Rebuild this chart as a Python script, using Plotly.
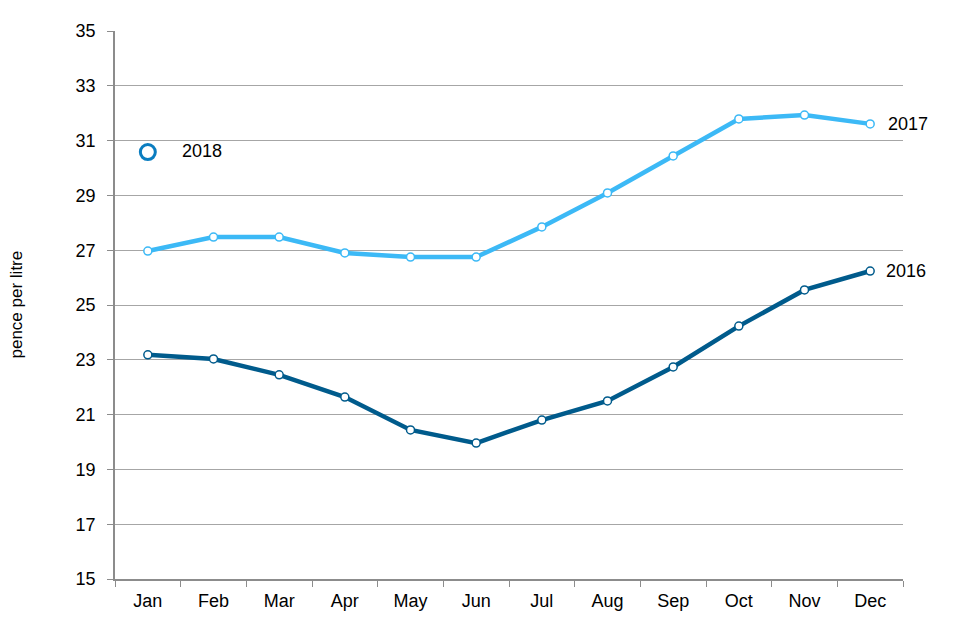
import plotly.graph_objects as go

months = ["Jan", "Feb", "Mar", "Apr", "May", "Jun", "Jul", "Aug", "Sep", "Oct", "Nov", "Dec"]
values_2016 = [23.18, 23.03, 22.45, 21.64, 20.44, 19.96, 20.80, 21.50, 22.74, 24.23, 25.55, 26.24]
values_2017 = [26.97, 27.48, 27.48, 26.90, 26.75, 26.75, 27.85, 29.09, 30.44, 31.79, 31.93, 31.61]
months_2018 = ["Jan"]
values_2018 = [30.58]
y_ticks = [15, 17, 19, 21, 23, 25, 27, 29, 31, 33, 35]

c2016 = "#005b8c"
c2017 = "#3cb9f6"
c2018 = "#0a7dc0"

fig = go.Figure()
fig.add_trace(go.Scatter(x=months, y=values_2016, mode="lines+markers", name="2016",
                         line=dict(color=c2016, width=4.5),
                         marker=dict(size=8, color="white", line=dict(color=c2016, width=1.5))))
fig.add_trace(go.Scatter(x=months, y=values_2017, mode="lines+markers", name="2017",
                         line=dict(color=c2017, width=4.5),
                         marker=dict(size=8, color="white", line=dict(color=c2017, width=1.5))))
fig.add_trace(go.Scatter(x=months_2018, y=values_2018, mode="markers", name="2018",
                         marker=dict(size=15, color="white", line=dict(color=c2018, width=3))))

font = dict(family="Liberation Sans, Arial, sans-serif", size=18, color="black")
fig.add_annotation(x=months[-1], y=values_2017[-1], text="2017", showarrow=False,
                   xanchor="left", xshift=16, font=font)
fig.add_annotation(x=months[-1], y=values_2016[-1], text="2016", showarrow=False,
                   xanchor="left", xshift=14, font=font)
fig.add_annotation(x=months_2018[0], y=values_2018[0], text="2018", showarrow=False,
                   xanchor="left", xshift=32, yshift=1, font=font)
fig.add_annotation(xref="paper", yref="paper", x=0, y=0.5, xshift=-111, text="pence per litre",
                   textangle=-90, showarrow=False,
                   font=dict(family="Liberation Sans, Arial, sans-serif", size=17, color="black"))

fig.update_layout(
    width=960, height=640,
    margin=dict(l=107, r=65, t=23, b=69),
    paper_bgcolor="white", plot_bgcolor="white",
    showlegend=False,
    font=font,
    xaxis=dict(type="category", categoryorder="array", categoryarray=months,
               range=[-0.5, 11.5], showgrid=False, showline=True, linecolor="#8c8c8c",
               linewidth=1.5, ticks="outside", tickson="boundaries", ticklen=6,
               tickcolor="#8c8c8c", tickfont=font, zeroline=False, ticklabelstandoff=5,
               automargin=False),
    yaxis=dict(range=[15, 35], tickvals=y_ticks, showgrid=True, gridcolor="#a6a6a6",
               gridwidth=1.2, showline=True, linecolor="#8c8c8c", linewidth=1.5,
               ticks="outside", ticklen=6, tickcolor="#8c8c8c", tickfont=font,
               zeroline=False, ticklabelstandoff=8, automargin=False),
)

fig.write_html("out.html")
